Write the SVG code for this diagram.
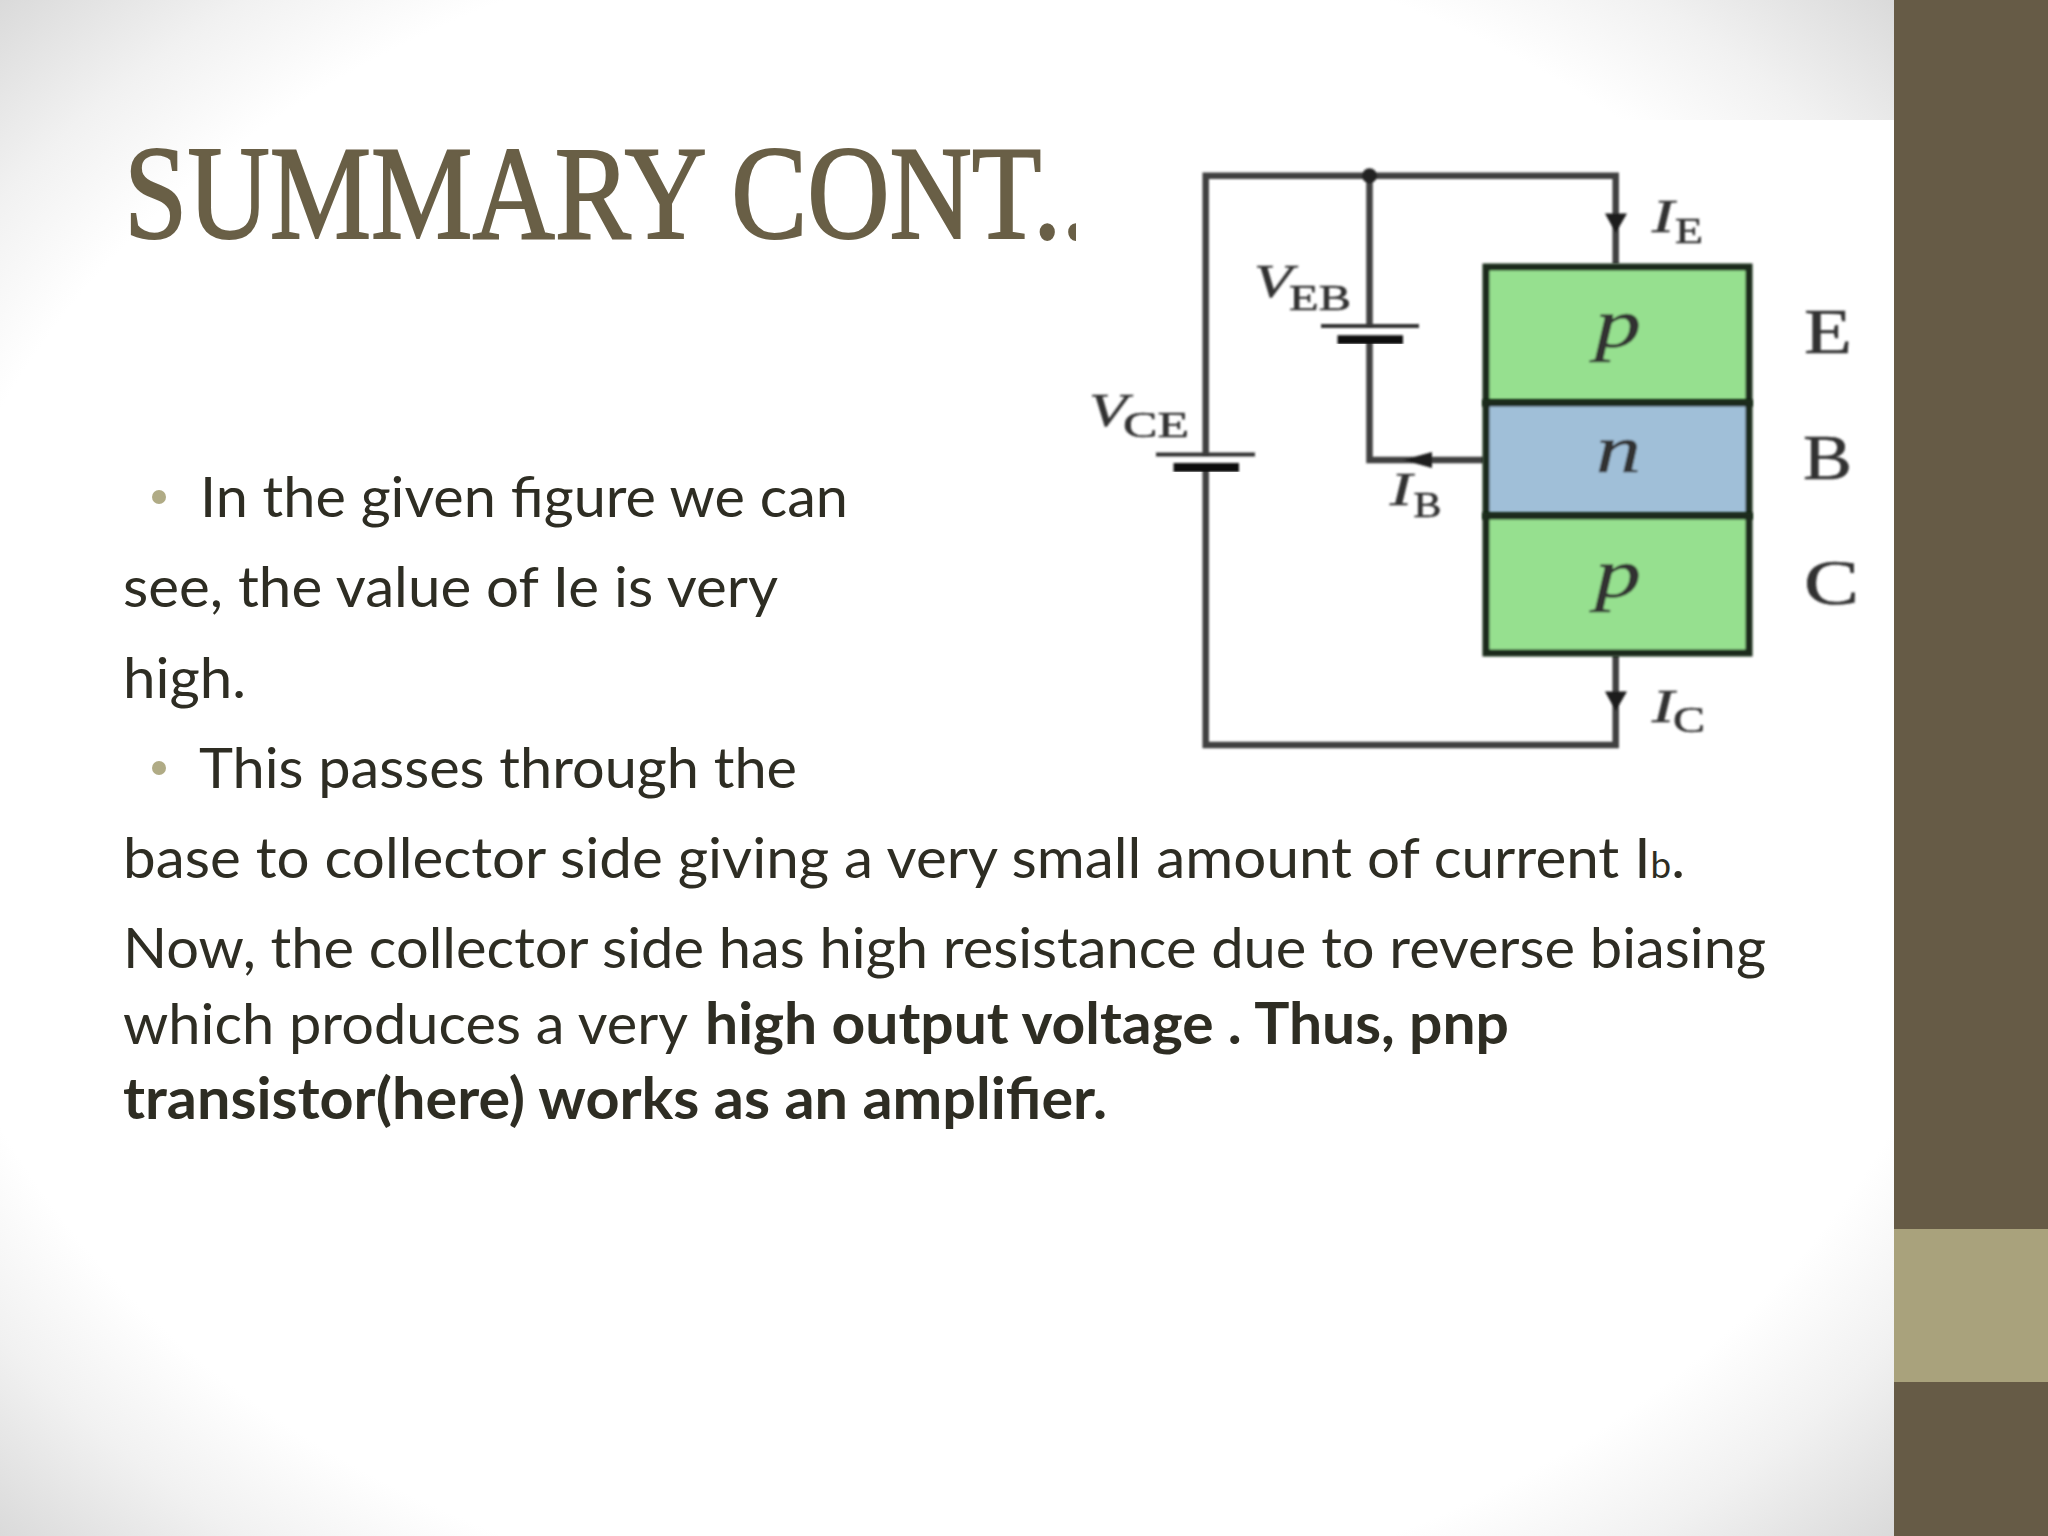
<svg xmlns="http://www.w3.org/2000/svg" width="2048" height="1536" viewBox="0 0 2048 1536">
<defs>
<radialGradient id="bg" gradientUnits="userSpaceOnUse" cx="0" cy="0" r="1" gradientTransform="translate(947 768) scale(1339 1086)">
<stop offset="0" stop-color="#ffffff"/><stop offset="0.78" stop-color="#ffffff"/><stop offset="0.88" stop-color="#f1f1f1"/><stop offset="1" stop-color="#dadada"/>
</radialGradient>
<filter id="soft" x="-5%" y="-5%" width="110%" height="110%"><feGaussianBlur stdDeviation="0.8"/></filter>
</defs>
<style>
.body{font-family:Lato,"Noto Sans",sans-serif;font-size:57px;fill:#2e2d23}
.b{font-weight:700}
.wire{fill:none;stroke:#3f3f3f;stroke-width:6.5}
.plate{stroke:#333;stroke-width:4;fill:none}
.plate2{stroke:#111;stroke-width:9;fill:none}
.region{stroke:#1c2a1c;stroke-width:7}
.lab{font-family:"Liberation Serif",serif;fill:#333;stroke:#333;stroke-width:.6}
.it{font-style:italic}
.arr{fill:#1d1d1d}
.fig{filter:url(#soft)}
</style>
<rect width="2048" height="1536" fill="#fff"/>
<rect width="1894" height="1536" fill="url(#bg)"/>
<rect x="1894" y="0" width="154" height="1536" fill="#665b46"/>
<rect x="1894" y="1229" width="154" height="153" fill="#a9a27c"/>
<text id="title" x="124" y="238" font-family="'Liberation Serif',serif" font-size="133" fill="#695f46" stroke="#695f46" stroke-width="2" textLength="966" lengthAdjust="spacingAndGlyphs">SUMMARY CONT..</text>
<rect x="1076" y="120" width="818" height="685" fill="#fff"/>
<g id="body">
<circle cx="159" cy="497" r="7" fill="#b0ab85"/>
<text class="body" x="200" y="517" textLength="648" lengthAdjust="spacingAndGlyphs">In the given figure we can</text>
<text class="body" x="123" y="607" textLength="655" lengthAdjust="spacingAndGlyphs">see, the value of Ie is very</text>
<text class="body" x="123" y="698" textLength="123" lengthAdjust="spacingAndGlyphs">high.</text>
<circle cx="159" cy="768" r="7" fill="#b0ab85"/>
<text class="body" x="199" y="788" textLength="598" lengthAdjust="spacingAndGlyphs">This passes through the</text>
<text class="body" x="123" y="878" textLength="1562" lengthAdjust="spacingAndGlyphs">base to collector side giving a very small amount of current I<tspan font-size="36">b</tspan>.</text>
<text class="body" x="123" y="968" textLength="1643" lengthAdjust="spacingAndGlyphs">Now, the collector side has high resistance due to reverse biasing</text>
<text class="body" x="123" y="1044" textLength="565" lengthAdjust="spacingAndGlyphs">which produces a very</text>
<text class="body b" x="705" y="1044" textLength="804" lengthAdjust="spacingAndGlyphs">high output voltage . Thus, pnp</text>
<text class="body b" x="123" y="1119" textLength="984" lengthAdjust="spacingAndGlyphs">transistor(here) works as an amplifier.</text>
</g>
<g id="connectors" class="fig">
<path class="wire" d="M1205.7 454.6V175.7H1615.7V264"/>
<path class="wire" d="M1205.7 468V745H1615.7V655"/>
<path class="wire" d="M1369.5 175.7V326"/>
<path class="wire" d="M1369.5 340V460H1484"/>
<circle cx="1369.5" cy="175.7" r="7.5" fill="#222"/>
<path class="arr" d="M1605 213.5H1627L1615.7 233Z"/>
<path class="arr" d="M1605 691.5H1627L1615.7 711Z"/>
<path class="arr" d="M1403 460L1432 452V468Z"/>
</g>
<g id="battery-veb" class="fig">
<path class="plate" d="M1321 326H1419"/><path class="plate2" d="M1337.5 339.7H1403"/>
<text class="lab it" x="1254" y="297" font-size="46" textLength="38" lengthAdjust="spacingAndGlyphs">V</text>
<text class="lab" x="1289" y="310" font-size="36" textLength="62" lengthAdjust="spacingAndGlyphs">EB</text>
</g>
<g id="battery-vce" class="fig">
<path class="plate" d="M1156 454.6H1255"/><path class="plate2" d="M1173.5 467.6H1239"/>
<text class="lab it" x="1089" y="426" font-size="46" textLength="38" lengthAdjust="spacingAndGlyphs">V</text>
<text class="lab" x="1123" y="437" font-size="36" textLength="66" lengthAdjust="spacingAndGlyphs">CE</text>
</g>
<g id="emitter" class="fig">
<rect class="region" x="1486" y="267" width="263" height="136" fill="#96e08f"/>
<text class="lab it" x="1595" y="347" font-size="70" fill="#1f4a1f" stroke="#1f4a1f" textLength="46" lengthAdjust="spacingAndGlyphs">p</text>
<text class="lab" x="1804" y="353" font-size="64" textLength="48" lengthAdjust="spacingAndGlyphs">E</text>
<text class="lab it" x="1652" y="232" font-size="46" textLength="22" lengthAdjust="spacingAndGlyphs">I</text>
<text class="lab" x="1675" y="243" font-size="36" textLength="28" lengthAdjust="spacingAndGlyphs">E</text>
</g>
<g id="base" class="fig">
<rect class="region" x="1486" y="403" width="263" height="113" fill="#a0bfd8"/>
<text class="lab it" x="1596" y="472" font-size="68" fill="#1c3357" stroke="#1c3357" textLength="45" lengthAdjust="spacingAndGlyphs">n</text>
<text class="lab" x="1803" y="479" font-size="64" textLength="49" lengthAdjust="spacingAndGlyphs">B</text>
<text class="lab it" x="1390" y="505" font-size="46" textLength="22" lengthAdjust="spacingAndGlyphs">I</text>
<text class="lab" x="1413.5" y="517" font-size="36" textLength="28" lengthAdjust="spacingAndGlyphs">B</text>
</g>
<g id="collector" class="fig">
<rect class="region" x="1486" y="516" width="263" height="137" fill="#96e08f"/>
<text class="lab it" x="1595" y="597" font-size="70" fill="#1f4a1f" stroke="#1f4a1f" textLength="46" lengthAdjust="spacingAndGlyphs">p</text>
<text class="lab" x="1804" y="604" font-size="64" textLength="55" lengthAdjust="spacingAndGlyphs">C</text>
<text class="lab it" x="1652" y="722" font-size="46" textLength="22" lengthAdjust="spacingAndGlyphs">I</text>
<text class="lab" x="1673" y="732" font-size="36" textLength="32" lengthAdjust="spacingAndGlyphs">C</text>
</g>
</svg>
